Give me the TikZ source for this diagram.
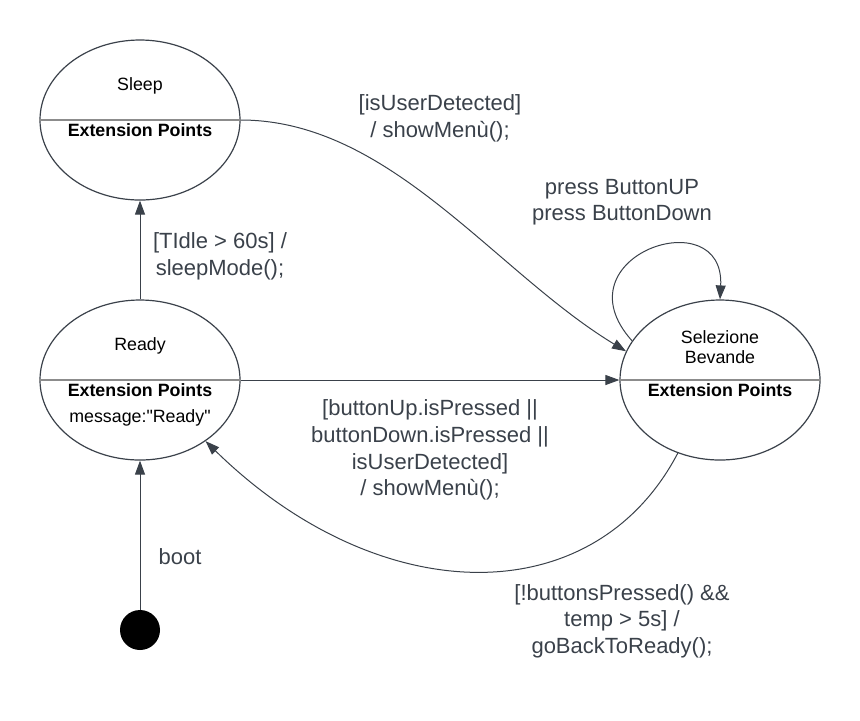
\documentclass[tikz,border=0pt]{standalone}
\usepackage{fontspec}
\setmainfont{Liberation Sans}
\usetikzlibrary{shapes.geometric,arrows.meta,positioning}
\definecolor{linegray}{HTML}{3A414A}
\definecolor{divgray}{HTML}{8C8C8C}

\begin{document}
\begin{tikzpicture}[x=0.5pt,y=-0.5pt]
    \tikzstyle{statebox}=[draw=linegray, line width=0.6pt, ellipse, minimum width=100pt, minimum height=80pt, inner sep=0pt]
    \tikzstyle{stname}=[font=\fontsize{8.9}{10}\selectfont, align=center, text=black]
    \tikzstyle{extp}=[font=\fontsize{8.9}{10}\selectfont\bfseries, text=black]
    \tikzstyle{translabel}=[font=\fontsize{11}{13.3}\selectfont, align=center, text=linegray]
    \tikzstyle{arr}=[draw=linegray, line width=0.5pt, -{Triangle[length=7pt,width=5pt]}]
    \useasboundingbox (0,0) rectangle (860,720);
    % states
    \node[statebox] (sleep) at (140,120) {};
    \node[statebox] (ready) at (140,380) {};
    \node[statebox] (sel) at (720,380) {};
    \node[circle, fill=black, minimum size=20pt, inner sep=0pt] (init) at (140,630) {};
    \foreach \s in {sleep,ready,sel}
        \draw[divgray, line width=0.6pt] (\s.west) -- (\s.east);
    % state texts
    \node[stname] (sleepname) at (140,86) {Sleep};
    \node[extp] (sleepext) at (140,130) {Extension Points};
    \node[stname] (readyname) at (140,346) {Ready};
    \node[extp] (readyext) at (140,390) {Extension Points};
    \node[stname] (readymsg) at (140,418) {message:\textquotedbl Ready\textquotedbl};
    \node[stname] (selname) at (720,347) {Selezione\\Bevande};
    \node[extp] (selext) at (720,390) {Extension Points};
    % transitions
    \draw[arr] (init.north) -- (ready.south);
    \draw[arr] (ready.north) -- (sleep.south);
    \draw[arr] (ready.east) -- (sel.west);
    \draw[arr] (sleep.east) .. controls (390,120) and (495,272) .. (sel.163);
    \draw[arr] (sel.240) .. controls (593,615) and (378,610) .. (ready.-43);
    \draw[arr] (sel.156) .. controls (556,256) and (725,199) .. (sel.north);
    % transition labels
    \node[translabel] (bootlbl) at (180,557) {boot};
    \node[translabel] (idlelbl) at (220,256) {[TIdle > 60s] /\\sleepMode();};
    \node[translabel] (userlbl) at (440,118) {[isUserDetected]\\/ showMenù();};
    \node[translabel] (presslbl) at (622,202) {press ButtonUP\\press ButtonDown};
    \node[translabel] (menulbl) at (430,450) {[buttonUp.isPressed ||\\buttonDown.isPressed ||\\isUserDetected]\\/ showMenù();};
    \node[translabel] (backlbl) at (622,621) {[!buttonsPressed() \&\&\\temp > 5s] /\\goBackToReady();};
\end{tikzpicture}
\end{document}
